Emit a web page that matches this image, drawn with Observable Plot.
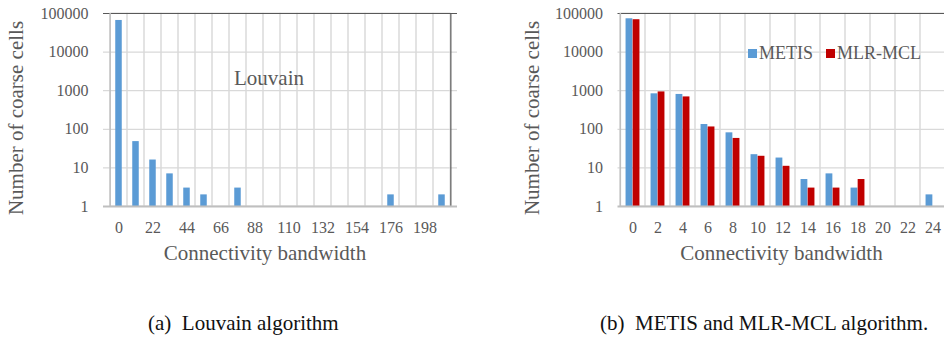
<!DOCTYPE html>
<html>
<head>
<meta charset="utf-8">
<script src="https://cdn.jsdelivr.net/npm/d3@7"></script>
<script src="https://cdn.jsdelivr.net/npm/@observablehq/plot@0.6"></script>
<style>
  html, body { margin: 0; padding: 0; background: #fff; overflow: hidden; }
  #wrap { position: relative; width: 944px; height: 337px; overflow: hidden; font-family: "Liberation Serif", "DejaVu Serif", serif; }
  #wrap svg, #wrap svg text { font-family: "Liberation Serif", "DejaVu Serif", serif !important; }
  .abs { position: absolute; white-space: pre; line-height: 1; }
  .c { transform: translate(-50%, -50%); }
  .lv { transform: translate(0, -50%); }
  .rot { transform: translate(-50%, -50%) rotate(-90deg); }
  .txt { color: #595959; }
  .sq { position: absolute; width: 9px; height: 9px; }
</style>
</head>
<body>
<div id="wrap"></div>
<script>
// ---------- data ----------
const louvainBins = [0, 11, 22, 33, 44, 55, 66, 77, 88, 99, 110, 121, 132, 143, 154, 165, 176, 187, 198, 209];
const louvainCounts = [66000, 48, 16, 7, 3, 2, null, 3, null, null, null, null, null, null, null, null, 2, null, null, 2];
const louvainTicks = [0, 22, 44, 66, 88, 110, 132, 154, 176, 198];

const bandBins = [0, 2, 4, 6, 8, 10, 12, 14, 16, 18, 20, 22, 24];
const metisCounts = [73000, 830, 800, 133, 81, 22, 18, 5, 7, 3, null, null, 2];
const mlrmclCounts = [69000, 930, 690, 115, 58, 20, 11, 3, 3, 5, null, null, null];

const yTicks = [1, 10, 100, 1000, 10000, 100000];
const seriesNames = ["METIS", "MLR-MCL"];
const seriesColors = ["#5b9bd5", "#c00000"];

// ---------- helpers ----------
const wrap = document.getElementById("wrap");
function addText(text, x, y, cls, size, color) {
  const d = document.createElement("div");
  d.className = "abs " + cls;
  d.textContent = text;
  d.style.left = x + "px";
  d.style.top = y + "px";
  d.style.fontSize = size + "px";
  if (color) d.style.color = color;
  wrap.appendChild(d);
  return d;
}

function panel({bins, ticks, series, left, width, height, margin, barWidth}) {
  const n = bins.length;
  const bw = (width - margin.left - margin.right) / n;
  const marks = [
    Plot.barY(bins, {x: d => d, y1: 1, y2: 100000, fill: "none", stroke: "#d9d9d9", strokeWidth: 1}),
    Plot.ruleY(yTicks.slice(1, -1), {stroke: "#d9d9d9", strokeWidth: 1.2})
  ];
  const k = series.length;
  series.forEach((s, j) => {
    const data = bins.map((b, i) => ({bin: b, v: s.values[i]})).filter(d => d.v != null);
    const groupW = barWidth * k;
    const insetLeft = (bw - groupW) / 2 + j * barWidth;
    const insetRight = bw - insetLeft - barWidth;
    marks.push(Plot.barY(data, {x: "bin", y1: 1, y2: "v", fill: s.color, insetLeft, insetRight}));
  });
  marks.push(
    Plot.ruleY([100000], {stroke: "#595959", strokeWidth: 1.2}),
    Plot.ruleX([bins[n - 1]], {stroke: "#595959", strokeWidth: 1.2, dx: bw / 2}),
    Plot.ruleX([bins[0]], {stroke: "#bfbfbf", strokeWidth: 1.5, dx: -bw / 2}),
    Plot.ruleY([1], {stroke: "#bfbfbf", strokeWidth: 2})
  );
  const svg = Plot.plot({
    width, height,
    marginLeft: margin.left, marginRight: margin.right, marginTop: margin.top, marginBottom: margin.bottom,
    style: {fontSize: "16px", color: "#595959", background: "transparent", overflow: "visible"},
    x: {type: "band", domain: bins, padding: 0, ticks, tickSize: 0, tickPadding: 15, label: null},
    y: {type: "log", domain: [1, 100000], ticks: yTicks, tickFormat: d => String(d), tickSize: 0, tickPadding: 15, label: null},
    marks
  });
  svg.style.position = "absolute";
  svg.style.left = left + "px";
  svg.style.top = "0px";
  svg.style.fontFamily = '"Liberation Serif", "DejaVu Serif", serif';
  wrap.appendChild(svg);
}

// Left panel: Louvain
panel({
  bins: louvainBins, ticks: louvainTicks,
  series: [{values: louvainCounts, color: seriesColors[0]}],
  left: 0, width: 470, height: 280,
  margin: {left: 103, right: 13, top: 13, bottom: 74},
  barWidth: 7.2
});

// Right panel: METIS and MLR-MCL
panel({
  bins: bandBins, ticks: bandBins,
  series: [{values: metisCounts, color: seriesColors[0]}, {values: mlrmclCounts, color: seriesColors[1]}],
  left: 470, width: 480, height: 280,
  margin: {left: 147.5, right: 3.5, top: 13, bottom: 74},
  barWidth: 7.1
});

// Axis titles
addText("Number of coarse cells", 16, 118, "rot txt", 21);
addText("Connectivity bandwidth", 265, 253, "c txt", 21);
addText("Number of coarse cells", 532, 117.5, "rot txt", 21);
addText("Connectivity bandwidth", 781.5, 253, "c txt", 21);

// Annotation
addText("Louvain", 269, 78, "c txt", 21);

// Legend
const legendPos = [{sq: 748, tx: 759}, {sq: 826, tx: 837}];
seriesNames.forEach((name, i) => {
  const s = document.createElement("div");
  s.className = "sq";
  s.style.left = legendPos[i].sq + "px";
  s.style.top = "49px";
  s.style.background = seriesColors[i];
  wrap.appendChild(s);
  addText(name, legendPos[i].tx, 53, "lv txt", 18);
});

// Captions
addText("(a)  Louvain algorithm", 148, 323, "lv", 21, "#111");
addText("(b)  METIS and MLR-MCL algorithm.", 600, 323, "lv", 21, "#111");
</script>
</body>
</html>
